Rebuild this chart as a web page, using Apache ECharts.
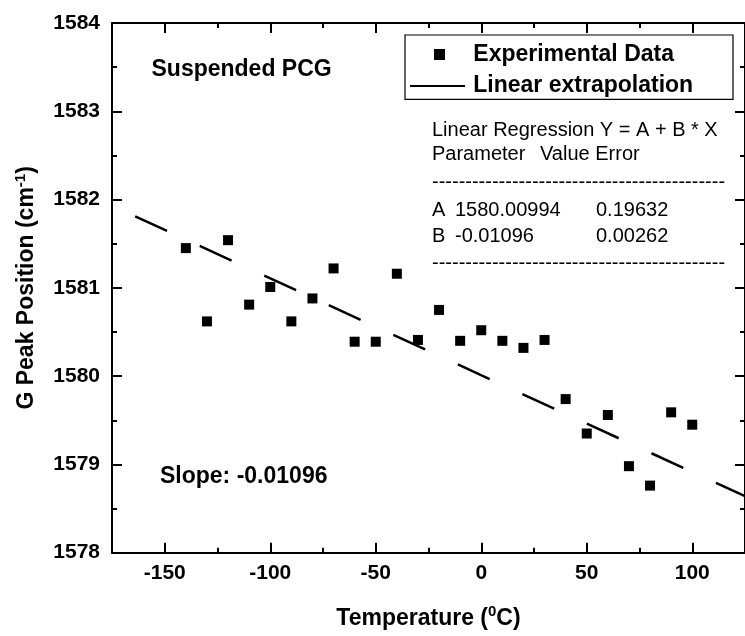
<!DOCTYPE html>
<html><head><meta charset="utf-8">
<script src="https://cdn.jsdelivr.net/npm/echarts@6/dist/echarts.min.js"></script>
<style>html,body{margin:0;padding:0;background:#fff}#c{width:745px;height:636px}</style>
</head><body><div id="c"></div>
<script>
const temperatures = [-140,-130,-120,-110,-100,-90,-80,-70,-60,-50,-40,-30,-20,-10,0,10,20,30,40,50,60,70,80,90,100];
const peakPositions = [1581.45,1580.62,1581.54,1580.81,1581.01,1580.62,1580.88,1581.22,1580.39,1580.39,1581.16,1580.41,1580.75,1580.40,1580.52,1580.40,1580.32,1580.41,1579.74,1579.35,1579.56,1578.98,1578.76,1579.59,1579.45];
const fitX = [-164, 125];
const fitY = [1581.81, 1578.64];
const xTickLabels = [-150,-100,-50,0,50,100];
const yTickLabels = [1578,1579,1580,1581,1582,1583,1584];
const seriesNames = ['Experimental Data', 'Linear extrapolation'];

const FONT = "'Liberation Sans', Arial, sans-serif";
const chart = echarts.init(document.getElementById('c'), null, {renderer:'canvas'});

const axisLineStyle = {color:'#000', width:2};
function xAxisDef(pos, major, withLabel, extra) {
  const a = {
    type:'value', min:-175, max:125, position:pos,
    axisLine:{show:major, onZero:false, lineStyle:axisLineStyle},
    axisTick:{show:true, inside:true, length: major?10:5, lineStyle:{color:'#000', width:2}},
    axisLabel:{show:withLabel, color:'#000', fontSize:21, fontWeight:'bold', fontFamily:FONT, margin:10,
      showMinLabel:false, showMaxLabel:false,
      formatter: v => xTickLabels.includes(v) ? String(v) : ''},
    splitLine:{show:false}
  };
  if (major) a.splitNumber = 6; else a.interval = 25;
  return Object.assign(a, extra||{});
}
function yAxisDef(pos, withLabel, extra) {
  return Object.assign({
    type:'value', min:1578, max:1584, interval:1, position:pos,
    axisLine:{show:true, onZero:false, lineStyle:axisLineStyle},
    axisTick:{show:true, inside:true, length:10, lineStyle:{color:'#000', width:2}},
    minorTick:{show:true, splitNumber:2, length:5, lineStyle:{color:'#000', width:2}},
    axisLabel:{show:withLabel, color:'#000', fontSize:21, fontWeight:'bold', fontFamily:FONT, margin:12,
      formatter: v => yTickLabels.includes(v) ? String(v) : ''},
    splitLine:{show:false}
  }, extra||{});
}

const nameRich = {
  b:{fontSize:23, fontWeight:'bold', fontFamily:FONT, color:'#000', lineHeight:28},
  sup:{fontSize:15, fontWeight:'bold', fontFamily:FONT, color:'#000', verticalAlign:'top', lineHeight:15}
};

const regFont = {fontSize:20, fontFamily:FONT, fill:'#000', verticalAlign:'middle'};
const boldFont = {fontSize:23, fontWeight:'bold', fontFamily:FONT, fill:'#000', verticalAlign:'middle'};
function txt(text, x, y, style) {
  return {type:'text', x:x, y:y, z:100, style:Object.assign({text:text}, style)};
}
const dashes = '-'.repeat(44);

chart.setOption({
  animation:false,
  backgroundColor:'#fff',
  grid:{left:112, top:23, right:-8.5, bottom:83.3, containLabel:false},
  xAxis:[
    xAxisDef('bottom', true, true, {
      name:'{b|Temperature (}{sup|0}{b|C)}', nameLocation:'middle', nameGap:52,
      nameTextStyle:{rich:nameRich}
    }),
    xAxisDef('bottom', false, false),
    xAxisDef('top', true, false),
    xAxisDef('top', false, false)
  ],
  yAxis:[
    yAxisDef('left', true, {
      name:'{b|G Peak Position (cm}{sup|-1}{b|)}', nameLocation:'middle', nameGap:71, nameRotate:90,
      nameTextStyle:{rich:nameRich}
    }),
    yAxisDef('right', false)
  ],
  series:[
    {
      name:seriesNames[0], type:'scatter', symbol:'rect', symbolSize:10,
      itemStyle:{color:'#000', opacity:1},
      data: temperatures.map((t,i)=>[t, peakPositions[i]]), z:3
    },
    {
      name:seriesNames[1], type:'line', symbol:'none', showSymbol:false,
      lineStyle:{color:'#000', width:2.5, type:[35,36], cap:'butt'},
      itemStyle:{color:'#000'},
      data: fitX.map((x,i)=>[x, fitY[i]]), z:2
    }
  ],
  graphic:[
    {type:'rect', z:90, shape:{x:405, y:35, width:328, height:64.3},
     style:{fill:'#fff', stroke:'#000', lineWidth:1.2}},
    {type:'rect', z:100, shape:{x:434, y:49, width:11, height:11}, style:{fill:'#000'}},
    {type:'line', z:100, shape:{x1:410, y1:86, x2:465, y2:86}, style:{stroke:'#000', lineWidth:2}},
    txt(seriesNames[0], 473.3, 55, boldFont),
    txt(seriesNames[1], 473.3, 86, boldFont),
    txt('Suspended PCG', 151.5, 70, boldFont),
    txt('Slope: -0.01096', 160, 476.5, boldFont),
    txt('Linear Regression Y = A + B * X', 432, 130, regFont),
    txt('Parameter', 432, 154, regFont),
    txt('Value Error', 540, 154, regFont),
    txt(dashes, 432, 182, regFont),
    txt('A', 432, 210, regFont),
    txt('1580.00994', 455, 210, regFont),
    txt('0.19632', 596, 210, regFont),
    txt('B', 432, 236, regFont),
    txt('-0.01096', 455, 236, regFont),
    txt('0.00262', 596, 236, regFont),
    txt(dashes, 432, 263, regFont)
  ]
});
</script>
</body></html>
